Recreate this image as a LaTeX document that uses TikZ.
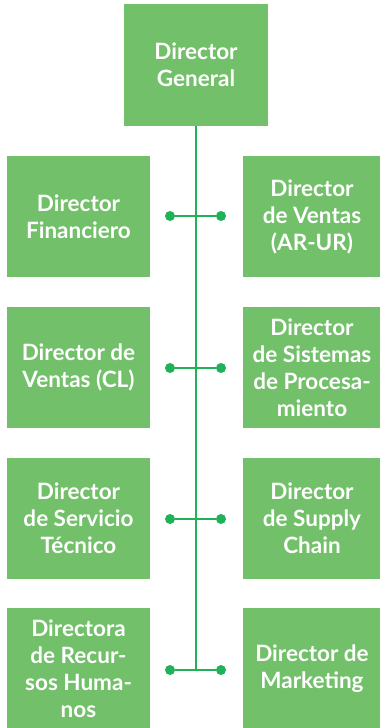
\documentclass[tikz,border=0pt]{standalone}
\usepackage{fontspec}
\setmainfont{Lato}
\definecolor{boxg}{RGB}{114,192,106}
\definecolor{lineg}{RGB}{32,178,88}
\begin{document}
\begin{tikzpicture}[x=1pt,y=-1pt,
  box/.style={fill=boxg, draw=none, text=white, align=center, inner sep=0pt,
    font=\fontsize{22.5}{27}\selectfont\bfseries, minimum height=121pt},
  lbox/.style={box, minimum width=143pt},
  rbox/.style={box, minimum width=138pt},
  dot/.style={circle, fill=lineg, inner sep=0pt, minimum size=10pt},
  conn/.style={draw=lineg, line width=2.6pt}]
\useasboundingbox (0,0) rectangle (380,728);
\node[box, minimum width=144pt, minimum height=122pt] (top) at (196,65) {Director\\General};
\node[lbox] (b1l) at (78.5,216.5) {Director\\Financiero};
\node[rbox] (b1r) at (312,216.5) {Director\\de Ventas\\(AR-UR)};
\node[lbox] (b2l) at (78.5,367.5) {Director de\\Ventas (CL)};
\node[rbox] (b2r) at (312,367.5) {Director\\de Sistemas\\de Procesa-\\miento};
\node[lbox] (b3l) at (78.5,518.5) {Director\\de Servicio\\Técnico};
\node[rbox] (b3r) at (312,518.5) {Director\\de Supply\\Chain};
\node[lbox] (b4l) at (78.5,668.5) {Directora\\de Recur-\\sos Huma-\\nos};
\node[rbox] (b4r) at (312,668.5) {Director de\\Marketing};
\coordinate (j4) at (196,670);
\draw[conn] (top.south) -- (j4);
\foreach \i/\y in {1/216,2/368,3/519,4/670}{
  \node[dot] (dl\i) at (170,\y) {};
  \node[dot] (dr\i) at (221,\y) {};
  \draw[conn] (dl\i) -- (dr\i);
}
\end{tikzpicture}
\end{document}
